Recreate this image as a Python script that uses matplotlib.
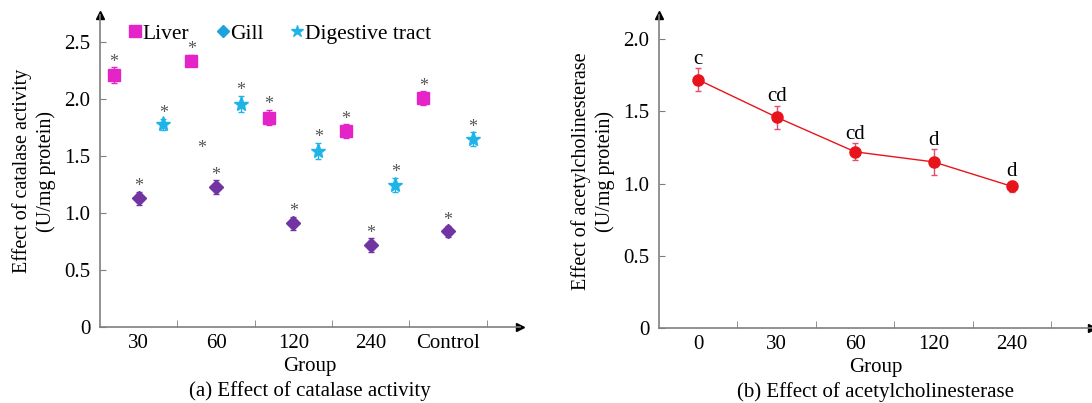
import numpy as np
import matplotlib
matplotlib.use("Agg")
from matplotlib import pyplot as plt
from matplotlib.lines import Line2D

plt.rcParams['font.family'] = ['Liberation Serif', 'DejaVu Serif']
plt.rcParams['font.size'] = 15

# panel (a) data
groups_a = ['30', '60', '120', '240', 'Control']
liver = [2.21, 2.34, 1.84, 1.72, 2.01]
liver_err = [0.07, 0.05, 0.07, 0.06, 0.06]
gill = [1.13, 1.23, 0.91, 0.72, 0.84]
gill_err = [0.06, 0.06, 0.06, 0.06, 0.05]
digest = [1.78, 1.96, 1.55, 1.25, 1.65]
digest_err = [0.05, 0.07, 0.07, 0.06, 0.06]

# panel (b) data
groups_b = ['0', '30', '60', '120', '240']
ache = [1.72, 1.46, 1.22, 1.15, 0.98]
ache_err = [0.08, 0.08, 0.06, 0.09, 0.04]
ache_lab = ['c', 'cd', 'cd', 'd', 'd']

c_liver = '#E524C8'
c_gill = '#7233A3'
c_gill_leg = '#1CA3DC'
c_dig = '#1FB4E8'
c_axis = '#7F7F7F'
c_star = '#555555'

fig = plt.figure(figsize=(10.92, 4.03), dpi=100)
ax1 = fig.add_axes([0.0916, 0.1886, 0.3846, 0.774])
ax2 = fig.add_axes([0.6035, 0.187, 0.3965, 0.776])


def style_axis(ax):
    for s in ['top', 'right']:
        ax.spines[s].set_visible(False)
    for s in ['left', 'bottom']:
        ax.spines[s].set_color(c_axis)
        ax.spines[s].set_linewidth(1.2)
    ax.tick_params(axis='y', direction='in', length=4, color=c_axis, pad=7)
    ax.tick_params(axis='x', which='minor', direction='in', length=5, color=c_axis)
    ax.tick_params(axis='x', which='major', length=0, pad=5)
    ax.plot([0], [1], marker='^', color='black', markersize=6,
            transform=ax.transAxes, clip_on=False)
    ax.plot([1], [0], marker='>', color='black', markersize=6,
            transform=ax.transAxes, clip_on=False)


x = np.arange(len(groups_a))
off = 0.32
ax1.errorbar(x - off, liver, yerr=liver_err, fmt='s', color=c_liver,
             markersize=9, elinewidth=1, capsize=2)
ax1.errorbar(x, gill, yerr=gill_err, fmt='D', color=c_gill,
             markersize=7, elinewidth=1, capsize=2)
ax1.errorbar(x + off, digest, yerr=digest_err, fmt='*', color=c_dig,
             markersize=11, elinewidth=1, capsize=2)
for xs, ys, es in [(x - off, liver, liver_err), (x, gill, gill_err),
                   (x + off, digest, digest_err)]:
    for xi, yi, ei in zip(xs, ys, es):
        ax1.text(xi, yi + ei - 0.03, '*', ha='center', va='bottom',
                 fontsize=13, color=c_star)
# stray asterisk in the original figure
ax1.text(1 - 0.18, 1.49, '*', ha='center', va='bottom', fontsize=13, color=c_star)

ax1.set_xlim(-0.5, 4.93)
ax1.set_ylim(0, 2.74)
ax1.set_yticks([0, 0.5, 1.0, 1.5, 2.0, 2.5])
ax1.set_yticklabels(['0', '0.5', '1.0', '1.5', '2.0', '2.5'])
ax1.set_xticks(x)
ax1.set_xticklabels(groups_a)
ax1.set_xticks(np.arange(0.5, 5, 1), minor=True)
style_axis(ax1)
ax1.set_ylabel('Effect of catalase activity\n(U/mg protein)', labelpad=6,
               linespacing=1.25, fontsize=14.5)
ax1.set_xlabel('Group\n(a) Effect of catalase activity', labelpad=3,
               linespacing=1.35)

handles = [Line2D([], [], marker='s', color=c_liver, linestyle='none', markersize=9),
           Line2D([], [], marker='D', color=c_gill_leg, linestyle='none', markersize=6),
           Line2D([], [], marker='*', color=c_dig, linestyle='none', markersize=9)]
ax1.legend(handles, ['Liver', 'Gill', 'Digestive tract'], loc='upper left',
           bbox_to_anchor=(0.022, 1.035), ncol=3, frameon=False,
           handlelength=0.6, handletextpad=0.05, columnspacing=1.25, fontsize=15.5)

xb = np.arange(len(groups_b))
ax2.errorbar(xb, ache, yerr=ache_err, fmt='-o', color='#E8141C',
             markersize=8, linewidth=1, elinewidth=1, capsize=2,
             ecolor='#E0506A')
for xi, yi, ei, lab in zip(xb, ache, ache_err, ache_lab):
    ax2.text(xi, yi + ei - 0.005, lab, ha='center', va='bottom', fontsize=15)
ax2.set_xlim(-0.5, 5.02)
ax2.set_ylim(0, 2.17)
ax2.set_yticks([0, 0.5, 1.0, 1.5, 2.0])
ax2.set_yticklabels(['0', '0.5', '1.0', '1.5', '2.0'])
ax2.set_xticks(xb)
ax2.set_xticklabels(groups_b)
ax2.set_xticks(np.arange(0.5, 5, 1), minor=True)
style_axis(ax2)
ax2.set_ylabel('Effect of acetylcholinesterase\n(U/mg protein)', labelpad=6,
               linespacing=1.25, fontsize=14.5)
ax2.set_xlabel('Group\n(b) Effect of acetylcholinesterase', labelpad=3,
               linespacing=1.35)

fig.savefig('out.png', dpi=100)
